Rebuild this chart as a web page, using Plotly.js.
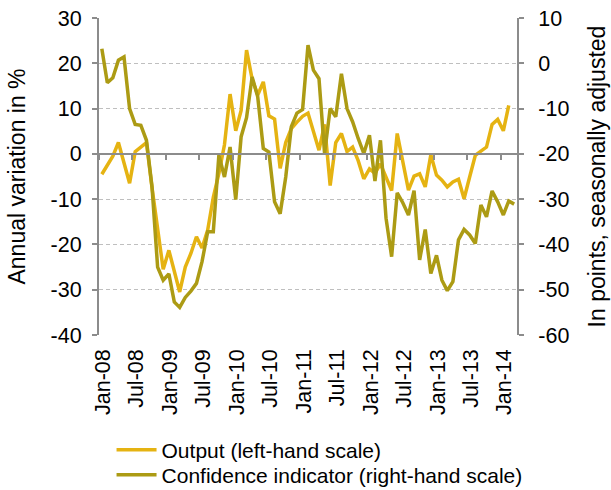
<!DOCTYPE html>
<html>
<head>
<meta charset="utf-8">
<script src="https://cdn.plot.ly/plotly-3.0.1.min.js"></script>
<style>html,body{margin:0;padding:0;background:#fff;}#chart{width:611px;height:490px;}</style>
</head>
<body>
<div id="chart"></div>
<script>
// Monthly observations, Jan-08 onwards
const startMonth = '2008-01';
const outputValues = [
  -4.5, -2.5, -0.5, 2.5, -2.0, -6.5, 0.5, 1.5, 2.5, -7.5, -17.0, -25.5,
  -21.3, -25.8, -30.5, -25.0, -22.0, -18.3, -20.8, -16.8, -9.6, -4.3, 2.0, 13.2,
  5.1, 9.6, 22.9, 16.5, 13.0, 15.9, 8.4, 7.7, -3.2, 2.5, 5.6, 7.0,
  8.3, 9.0, 4.8, 0.8, 6.5, -7.0, 2.5, 4.5, 0.5, 1.5, -1.5, -5.5,
  -3.3, -4.3, -2.2, -5.1, -8.1, 4.5, -1.4, -8.0, -4.9, -4.4, -7.3, -0.2,
  -4.7, -5.8, -7.3, -6.2, -5.6, -9.9, -5.1, -0.3, 0.6, 1.5, 6.5, 7.6,
  5.1, 10.7
];
const confidenceValues = [
  3.2, -4.3, -3.2, 0.7, 1.4, -10.0, -13.5, -13.7, -17.0, -27.3, -45.0, -47.9,
  -46.5, -52.7, -53.9, -51.7, -50.3, -48.6, -43.8, -37.2, -37.2, -20.3, -25.1, -18.5,
  -30.1, -16.2, -12.0, -3.0, -7.4, -18.8, -19.6, -30.6, -33.2, -25.1, -14.0, -11.0,
  -10.2, 4.0, -1.5, -3.4, -19.9, -10.0, -11.8, -2.3, -10.0, -12.9, -16.6, -19.9,
  -15.9, -26.0, -17.0, -34.2, -42.7, -28.6, -30.8, -33.5, -28.1, -43.4, -36.7, -46.4,
  -42.4, -47.9, -50.2, -48.2, -39.0, -36.7, -37.9, -39.8, -31.3, -33.9, -28.2, -30.6,
  -33.5, -30.4, -31.1
];
const seriesNames = ['Output (left-hand scale)', 'Confidence indicator (right-hand scale)'];
const leftTitle = 'Annual variation in %';
const rightTitle = 'In points, seasonally adjusted';
const leftTickVals = [-40, -30, -20, -10, 0, 10, 20, 30];
const leftTickText = ['-40', '-30', '-20', '-10', '0', '10', '20', '30'];
const rightTickVals = [-60, -50, -40, -30, -20, -10, 0, 10];
const rightTickText = ['-60', '-50', '-40', '-30', '-20', '-10', '0', '10'];

function monthList(start, n) {
  const [y0, m0] = start.split('-').map(Number);
  const out = [];
  for (let i = 0; i < n; i++) {
    const t = (m0 - 1) + i;
    const y = y0 + Math.floor(t / 12);
    const m = (t % 12) + 1;
    out.push(y + '-' + String(m).padStart(2, '0') + '-01');
  }
  return out;
}
const monthsOut = monthList(startMonth, outputValues.length);
const monthsConf = monthList(startMonth, confidenceValues.length);

const FONT = 'Liberation Sans, Arial, sans-serif';
const AXC = '#8c8c8c';
const TICKF = {family: FONT, size: 21.5, color: '#000'};
const TITLEF = {family: FONT, size: 23, color: '#000'};
const LEGF = {family: FONT, size: 21, color: '#000'};
const xRange = ['2008-01-01', '2014-04-01'];

const traces = [
  {x: monthsOut, y: outputValues, name: seriesNames[0], type: 'scatter', mode: 'lines',
   xperiod: 'M1', xperiodalignment: 'middle', legend: 'legend',
   line: {color: '#E5B312', width: 3.5}, xaxis: 'x', yaxis: 'y'},
  {x: monthsConf, y: confidenceValues, name: seriesNames[1], type: 'scatter', mode: 'lines',
   xperiod: 'M1', xperiodalignment: 'middle', legend: 'legend2',
   line: {color: '#AC9B14', width: 3.5}, xaxis: 'x', yaxis: 'y2'},
  {x: [null], y: [null], xaxis: 'x2', yaxis: 'y', showlegend: false, hoverinfo: 'skip', mode: 'lines'}
];

const legendBase = {x: 0.03, xanchor: 'left', yanchor: 'middle', orientation: 'v',
                    font: LEGF, itemwidth: 40, bgcolor: 'rgba(0,0,0,0)'};

const layout = {
  width: 611, height: 490,
  margin: {l: 99, r: 94, t: 18, b: 155, autoexpand: false},
  paper_bgcolor: '#fff', plot_bgcolor: '#fff',
  font: {family: FONT, size: 21, color: '#000'},
  showlegend: true,
  legend: Object.assign({}, legendBase, {y: -0.363}),
  legend2: Object.assign({}, legendBase, {y: -0.4417}),
  xaxis: {type: 'date', range: xRange, tick0: '2008-01-01', dtick: 'M6', tickformat: '%b-%y',
          tickangle: -90, ticks: '', showline: false, showgrid: false, zeroline: false,
          automargin: false, ticklabelshift: 4, ticklabelstandoff: 9, tickfont: TICKF},
  xaxis2: {type: 'date', range: xRange, tick0: '2008-01-01', dtick: 'M6', overlaying: 'x',
           anchor: 'free', position: 4/7, showline: true, linecolor: AXC, linewidth: 2,
           ticks: 'outside', ticklen: 5, tickwidth: 2, tickcolor: AXC, showticklabels: false,
           showgrid: false, zeroline: false, automargin: false},
  yaxis: {range: [-40, 30], tickmode: 'array', tickvals: leftTickVals, ticktext: leftTickText,
          showline: true, linecolor: AXC, linewidth: 2,
          ticks: 'outside', ticklen: 5, tickwidth: 2, tickcolor: AXC, zeroline: false,
          showgrid: true, gridcolor: '#bfbfbf', griddash: '4px,3px', gridwidth: 1,
          automargin: false, ticklabelstandoff: 6, tickfont: TICKF,
          title: {text: leftTitle, font: TITLEF, standoff: 19}},
  yaxis2: {range: [-60, 10], tickmode: 'array', tickvals: rightTickVals, ticktext: rightTickText,
           overlaying: 'y', side: 'right', anchor: 'x',
           showline: true, linecolor: AXC, linewidth: 2, ticks: 'outside', ticklen: 5,
           tickwidth: 2, tickcolor: AXC, showgrid: false, zeroline: false,
           automargin: false, ticklabelstandoff: 10, tickfont: TICKF,
           title: {text: rightTitle, font: TITLEF, standoff: 20}}
};

Plotly.newPlot('chart', traces, layout, {displayModeBar: false, staticPlot: true});
</script>
</body>
</html>
